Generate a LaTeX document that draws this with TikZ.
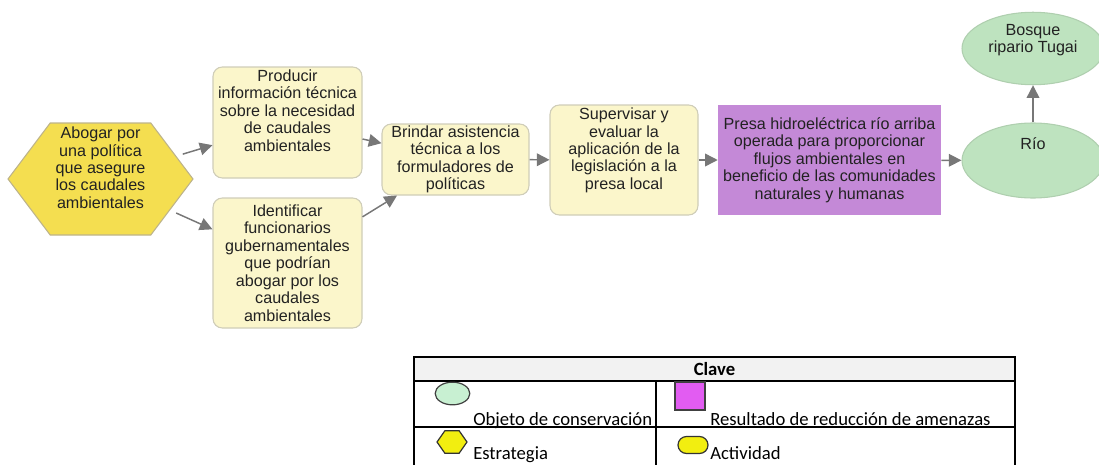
\documentclass[tikz,border=0pt]{standalone}
\usepackage{fontspec}
\setmainfont{Liberation Sans}
\newfontfamily\keyfont{Carlito}
\usetikzlibrary{shapes.geometric,shapes.symbols,shapes.misc,arrows.meta}

\definecolor{hexfill}{HTML}{F4DE50}
\definecolor{hexline}{HTML}{BDB38A}
\definecolor{actfill}{HTML}{FBF6CB}
\definecolor{actline}{HTML}{CFCDB8}
\definecolor{resfill}{HTML}{C489D7}
\definecolor{objfill}{HTML}{BEE3BF}
\definecolor{objline}{HTML}{AFCFAF}
\definecolor{arrowgray}{HTML}{777777}
\definecolor{textgray}{HTML}{222222}
\definecolor{keyhead}{HTML}{F2F2F2}
\definecolor{keygreen}{HTML}{C8F0D2}
\definecolor{keypurple}{HTML}{E25CF2}
\definecolor{keyyellow}{HTML}{F2EE10}

\tikzset{
  strat/.style={signal, signal to=east and west, signal pointer angle=106,
    fill=hexfill, draw=hexline, line width=0.8pt,
    minimum width=138.75pt, minimum height=84pt, inner sep=1pt},
  act/.style={rectangle, rounded corners=7pt, fill=actfill, draw=actline,
    line width=0.8pt, inner sep=1pt},
  res/.style={rectangle, fill=resfill, inner sep=1pt},
  obj/.style={ellipse, fill=objfill, draw=objline, line width=0.8pt,
    minimum width=106.5pt, inner sep=1pt},
  lift/.style={text depth=#1},
  link/.style={draw=arrowgray, line width=1.1pt,
    -{Triangle[length=9.5pt,width=9.5pt]}},
}

\begin{document}
\begin{tikzpicture}[x=0.75pt,y=-0.75pt]

      \clip (0,0) rectangle (1099,464);

      \begin{scope}[every node/.style={align=center, text=textgray,
          font=\fontsize{12.1}{13.1}\selectfont}]
        \node[strat, lift=17pt] (1) at (100.5,179)
          {Abogar por\\una política\\que asegure\\los caudales\\ambientales};
        \node[act, lift=18pt, minimum width=111.75pt, minimum height=83.25pt] (2) at (287.5,122.5)
          {Producir\\información técnica\\sobre la necesidad\\de caudales\\ambientales};
        \node[act, minimum width=111.75pt, minimum height=97.5pt] (3) at (287.5,263)
          {Identificar\\funcionarios\\gubernamentales\\que podrían\\abogar por los\\caudales\\ambientales};
        \node[act, minimum width=110.25pt, minimum height=53.25pt] (4) at (455.5,159.5)
          {Brindar asistencia\\técnica a los\\formuladores de\\políticas};
        \node[act, lift=17pt, minimum width=111pt, minimum height=82.5pt] (5) at (624,160)
          {Supervisar y\\evaluar la\\aplicación de la\\legislación a la\\presa local};
        \node[res, minimum width=167.25pt, minimum height=82.5pt] (6) at (829.5,160)
          {Presa hidroeléctrica río arriba\\operada para proporcionar\\flujos ambientales en\\beneficio de las comunidades\\naturales y humanas};
        \node[obj, lift=26pt, minimum height=56.25pt] (7) at (1033,160.5) {Río};
        \node[obj, lift=15pt, minimum height=53.25pt] (8) at (1033,48.5)
          {Bosque\\ripario Tugai};
      \end{scope}

      \begin{scope}[every edge/.style={link}]
        \path (1) edge[shorten <=5pt] (2);
        \path (1) edge[shorten <=5pt] (3);
        \path (2) edge (4);
        \path (3) edge (4);
        \path (4) edge (5);
        \path (5) edge (6);
        \path (6) edge (7);
        \path (7) edge (8);
      \end{scope}

      \fill[keyhead] (414,357) rectangle (1015,381);
      \draw[line width=1.2pt] (414,470) -- (414,357) -- (1015,357) -- (1015,470);
      \draw[line width=1.2pt] (414,381) -- (1015,381) (414,427) -- (1015,427)
        (656,381) -- (656,470);

      \begin{scope}[every node/.style={font=\keyfont\fontsize{14}{16}\selectfont}]
        \node[font=\keyfont\bfseries\fontsize{14}{16}\selectfont] (k0) at (714.5,369) {Clave};
        \node[ellipse, draw=black!75, fill=keygreen, line width=0.9pt, inner sep=0,
          minimum width=26pt, minimum height=17pt] (k1) at (452.5,393.5) {};
        \node[rectangle, draw=black!75, fill=keypurple, line width=0.9pt, inner sep=0,
          minimum width=22.5pt, minimum height=21pt] (k2) at (690,396) {};
        \node[signal, signal to=east and west, signal pointer angle=110,
          draw=black!80, fill=keyyellow, line width=0.9pt, inner sep=0,
          minimum width=22.5pt, minimum height=17pt] (k3) at (452,442) {};
        \node[rounded rectangle, draw=black!80, fill=keyyellow, line width=0.9pt,
          inner sep=0, minimum width=22.5pt, minimum height=12.75pt] (k4) at (693,445) {};
        \node[anchor=base west, inner sep=0] (t1) at (473,425) {Objeto de conservación};
        \node[anchor=base west, inner sep=0] (t2) at (710,425) {Resultado de reducción de amenazas};
        \node[anchor=base west, inner sep=0] (t3) at (473,459) {Estrategia};
        \node[anchor=base west, inner sep=0] (t4) at (710,459) {Actividad};
      \end{scope}

    \end{tikzpicture}
\end{document}
